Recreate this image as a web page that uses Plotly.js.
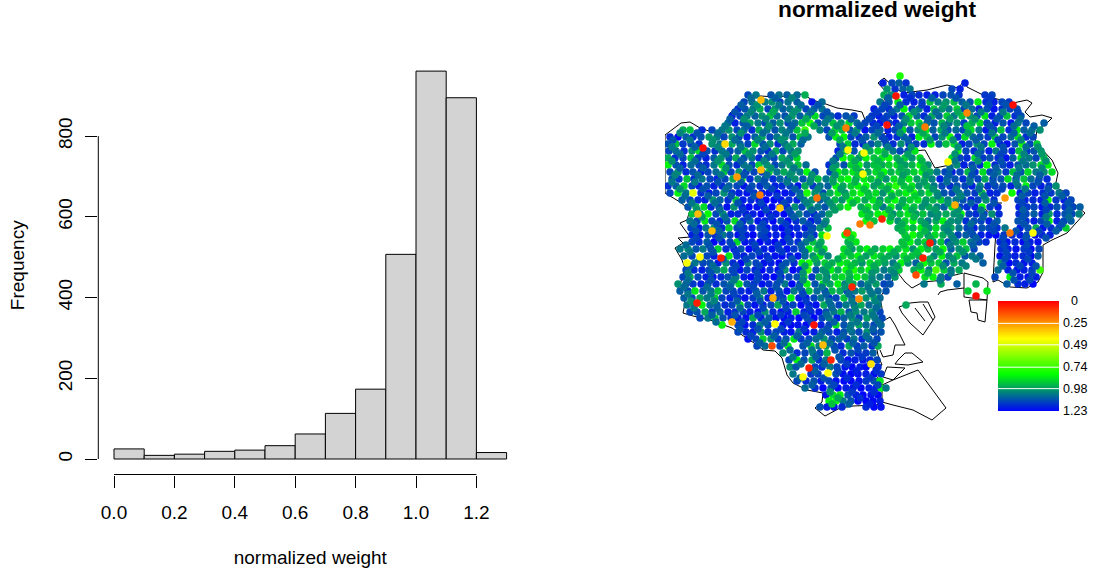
<!DOCTYPE html>
<html><head><meta charset="utf-8">
<script src="https://cdn.plot.ly/plotly-3.0.1.min.js"></script>
<style>html,body{margin:0;padding:0;background:#fff}</style></head>
<body><div id="chart" style="width:1095px;height:574px"></div>
<script>
// Histogram
const binMids=[0.05,0.15,0.25,0.35,0.45,0.55,0.65,0.75,0.85,0.95,1.05,1.15,1.25];
const binCounts=[25,9,12,19,22,33,62,113,173,507,961,895,16];
const xTicks=[0,0.2,0.4,0.6,0.8,1.0,1.2];
const xTickText=['0.0','0.2','0.4','0.6','0.8','1.0','1.2'];
const yTicks=[0,200,400,600,800];
// Legend
const legendValues=[0,0.41,0.82,1.23];
const legendTicks=[0,0.25,0.49,0.74,0.98,1.23];
// Stations: each row is [northing, easting, weight*100, easting, weight*100, ...]
const stationsNorth=[
[76,900,78],
[83,883,118,892,112,899,108,906,115,965,118],
[89,887,100,895,115,903,108,910,104,952,112,960,118],
[95,748,112,756,104,771,110,779,105,787,108,797,106,805,95,884,95,891,100,904,118,912,112,919,116,927,118,935,118,943,112,951,110,959,115,985,114,992,112],
[102,744,112,752,105,765,103,772,100,780,112,788,105,797,108,812,120,822,106,880,104,889,110,898,85,906,116,914,118,922,112,930,92,938,104,946,100,954,92,962,108,970,110,978,85,986,116,994,118,1002,112,1009,114],
[109,738,116,745,110,753,104,760,95,768,112,775,100,783,108,790,104,798,100,806,112,814,108,822,105,874,118,882,112,889,116,897,104,904,84,912,114,919,104,927,118,934,92,942,100,949,104,957,90,964,112,972,106,979,118,987,110,994,120,1002,116,1010,112,1017,110],
[116,732,118,740,112,747,104,755,108,762,100,770,92,777,106,785,110,792,98,800,108,808,104,815,88,823,112,831,108,838,116,846,110,854,114,872,114,879,118,887,112,894,118,902,110,909,88,917,106,924,116,932,96,939,108,947,90,954,104,962,92,970,100,977,112,985,86,992,118,1000,112,1007,92,1015,116,1021,110],
[123,728,106,735,118,743,110,750,96,758,104,765,112,773,108,780,100,788,112,795,106,802,92,810,78,818,110,825,104,833,92,841,100,849,88,857,106,865,112,873,116,880,120,889,112,896,118,904,104,911,92,919,88,927,106,934,110,942,94,949,106,957,100,964,114,972,96,980,88,987,112,995,118,1003,110,1011,120,1018,104,1026,112,1044,108],
[130,683,96,690,92,702,116,712,112,722,104,729,100,737,112,744,106,752,116,759,96,767,104,775,110,782,102,790,106,797,92,805,72,820,102,827,112,835,88,842,94,850,110,857,98,865,120,872,112,880,108,888,118,895,112,903,88,910,110,918,100,926,84,933,108,941,96,948,110,956,106,963,112,971,88,979,104,986,118,994,112,1001,92,1009,116,1017,84,1024,108,1032,104,1040,100],
[137,670,116,678,122,686,108,693,116,701,110,709,98,717,104,724,112,732,100,739,110,747,118,755,108,762,96,770,112,777,104,785,100,793,110,800,92,808,104,829,110,836,84,844,82,851,112,859,116,866,108,874,100,882,112,889,118,897,116,904,108,912,118,919,84,927,92,935,112,942,100,950,78,958,116,965,88,973,106,980,110,988,114,995,92,1003,112,1011,106,1018,88,1026,116,1033,112],
[144,668,110,676,92,683,114,691,112,699,116,712,100,720,104,732,96,740,108,748,112,755,88,763,110,770,100,778,116,785,104,793,96,801,108,840,112,848,90,855,116,863,118,871,110,878,102,886,110,893,116,901,100,909,118,916,112,924,116,931,84,939,108,946,92,954,88,962,118,969,112,977,100,984,112,992,84,1000,118,1007,120,1015,110,1022,78,1030,112,1037,90],
[151,669,112,676,106,684,116,692,100,699,88,707,110,715,116,722,104,730,112,738,108,745,92,753,100,761,110,768,116,776,96,783,112,791,104,798,100,838,118,846,92,854,110,870,96,878,88,885,90,893,104,900,112,908,112,915,86,958,78,966,112,974,116,981,110,989,118,996,104,1004,112,1012,118,1019,92,1027,116,1034,110,1041,100],
[158,668,96,675,116,683,112,691,92,698,114,706,118,714,108,721,100,729,112,736,96,744,110,752,104,759,116,767,108,774,112,782,96,790,104,797,88,836,110,843,80,851,88,859,100,866,84,874,92,882,86,889,80,897,96,905,90,912,100,920,88,952,88,960,112,967,116,975,88,983,114,990,110,998,116,1006,120,1013,108,1021,86,1029,104,1036,112,1044,92],
[165,668,84,676,110,683,118,691,106,699,112,706,116,714,104,722,88,729,110,737,116,744,104,752,112,759,90,767,100,775,112,782,104,790,98,798,92,806,106,829,116,836,100,844,110,851,90,859,84,867,100,874,92,882,96,889,90,897,88,905,98,912,94,920,84,928,100,957,100,964,118,972,112,980,116,987,82,995,116,1003,112,1010,118,1018,110,1026,106,1033,100,1041,88,1048,84]
];
const stationsMiddle=[
[172,670,112,678,100,686,116,693,110,701,118,708,112,716,106,724,90,731,112,739,100,746,114,754,112,762,116,769,90,777,104,784,96,792,100,800,104,807,82,815,110,830,112,838,84,845,92,853,86,861,100,868,96,876,88,884,82,891,94,899,90,907,96,914,90,922,84,930,96,937,104,945,112,952,118,960,112,968,94,975,116,983,88,990,112,998,104,1006,114,1013,92,1021,110,1028,88,1036,104,1044,100,1052,88],
[179,672,110,679,114,687,92,694,116,702,104,710,112,717,118,725,112,733,96,742,78,750,116,758,104,765,110,773,116,780,108,788,112,795,100,803,110,811,104,818,92,826,104,833,96,841,88,848,82,856,98,864,86,871,92,879,84,886,100,894,88,902,94,909,86,917,98,925,90,932,102,940,118,947,108,955,110,963,116,970,104,978,112,985,96,993,116,1001,110,1008,88,1016,112,1024,92,1031,106,1039,112,1047,116],
[186,668,116,676,108,684,88,692,112,699,118,707,110,714,118,722,116,729,108,737,112,744,120,752,110,760,116,767,108,775,118,782,116,790,112,798,120,805,96,813,114,820,104,828,108,836,84,843,96,851,90,858,84,866,82,874,98,881,92,889,88,896,76,904,92,912,86,919,100,927,94,934,104,942,112,950,116,957,110,965,112,972,118,980,102,988,116,995,112,1003,110,1011,118,1018,106,1026,84,1033,112,1041,118,1049,114,1056,100],
[193,670,112,678,84,686,104,701,116,709,118,716,112,724,100,732,114,739,118,747,120,754,114,762,118,769,120,777,122,785,120,792,116,800,108,807,78,815,100,823,112,830,96,838,86,845,100,853,88,861,80,868,94,876,88,883,100,891,84,899,92,906,84,914,78,921,96,929,88,937,100,944,110,952,112,959,104,967,110,975,114,982,92,990,118,997,116,1012,80,1020,118,1028,112,1035,118,1043,116,1051,114,1059,104,1066,112],
[200,682,108,690,112,698,116,705,118,713,100,720,108,728,116,736,92,743,118,751,116,759,120,766,122,774,122,781,120,789,116,797,118,804,104,812,100,820,108,827,104,835,94,842,100,850,82,857,88,865,96,873,86,880,100,888,92,895,82,903,96,910,90,918,86,926,98,933,94,941,90,948,104,956,104,963,110,971,118,978,112,986,100,994,116,1018,112,1025,118,1033,116,1041,118,1048,80,1056,114,1064,118,1071,112],
[207,688,110,696,96,704,88,711,116,719,112,727,120,734,100,742,118,749,122,757,120,764,118,772,122,780,122,787,118,795,100,802,112,810,96,818,104,825,110,833,100,840,92,848,80,861,96,868,86,876,92,883,104,891,84,899,100,906,88,914,92,922,100,929,96,937,102,944,108,952,88,960,112,967,116,975,118,982,82,990,114,998,118,1019,118,1027,114,1034,112,1042,120,1050,116,1057,110,1065,116,1073,112,1080,108],
[214,692,92,700,104,708,82,716,112,723,100,731,118,738,116,746,120,753,118,761,122,769,120,776,118,784,122,791,112,799,104,807,112,814,118,822,108,829,98,862,86,870,94,878,84,885,78,893,100,900,92,908,86,916,98,923,92,931,102,938,100,946,96,954,100,961,84,969,112,976,116,984,112,992,100,999,116,1019,116,1026,112,1034,108,1042,118,1049,98,1057,116,1065,110,1072,112,1079,102],
[221,690,104,697,112,705,86,712,112,720,118,727,110,735,88,743,116,750,106,758,120,765,118,773,122,781,110,788,122,796,116,803,108,811,120,818,112,826,100,866,80,874,92,890,88,898,100,905,90,913,82,921,96,928,104,936,96,943,84,951,100,958,102,966,116,974,110,981,112,989,118,997,108,1018,110,1026,116,1034,118,1041,112,1049,84,1057,118,1064,112,1071,108],
[228,691,112,699,118,706,104,714,100,722,116,729,90,737,112,744,116,752,118,760,110,767,120,775,118,782,122,790,120,797,116,805,118,813,112,820,100,828,92,898,96,906,88,913,94,921,84,929,100,936,88,944,100,951,96,959,104,967,112,974,118,982,110,989,112,997,116,1005,104,1020,118,1028,110,1036,96,1043,120,1051,116,1059,112,1066,90],
[235,692,118,700,120,708,110,715,116,723,104,730,112,738,120,746,118,753,122,761,112,768,120,776,118,784,122,791,122,799,118,806,112,814,116,822,86,845,84,853,78,905,90,913,80,920,92,928,100,935,88,943,96,951,100,958,112,966,108,973,112,981,118,989,120,996,122,1004,114,1012,116,1020,118,1027,112,1035,120,1042,116,1050,118],
[242,692,112,699,116,707,108,714,122,722,118,730,112,737,88,745,120,752,116,760,122,768,118,775,122,783,120,790,112,798,116,806,104,813,92,821,96,848,94,856,86,902,92,910,84,918,96,925,88,933,104,941,92,948,112,956,100,963,90,971,104,979,112,986,116,1000,118,1007,120,1015,116,1023,122,1030,118,1038,120],
[249,680,104,688,100,696,110,703,104,711,112,718,90,726,116,734,120,741,110,749,122,756,116,764,118,772,120,779,112,787,120,794,114,802,110,809,84,817,92,824,88,844,88,852,100,860,92,867,84,875,96,883,90,890,84,898,92,906,86,913,100,921,84,928,92,936,98,943,80,951,108,959,100,966,92,974,112,1001,116,1008,118,1016,120,1024,114,1031,122,1039,112],
[256,684,106,692,112,707,112,714,118,729,86,737,114,744,118,752,112,760,120,767,116,775,120,782,122,790,118,798,120,805,106,813,100,820,84,828,102,843,88,851,92,858,84,866,98,874,86,881,92,889,96,896,100,904,88,912,92,919,96,934,102,942,84,949,102,957,92,965,110,972,104,980,108,1000,120,1008,114,1015,118,1023,116,1031,122,1038,108],
[263,695,104,703,112,710,110,718,118,726,100,733,116,741,122,748,104,756,112,764,120,771,118,779,122,786,110,794,116,802,84,809,78,817,100,825,90,832,96,840,84,847,88,855,94,862,100,870,88,878,92,885,98,893,104,901,84,908,100,916,108,924,80,931,92,939,90,946,110,954,96,962,104,983,108,1001,100,1009,122,1016,116,1024,120,1032,118],
[270,686,112,694,116,702,118,709,112,717,104,724,96,732,112,740,120,747,112,755,118,762,122,770,116,778,120,785,100,793,122,800,118,808,72,816,110,823,100,831,84,838,96,846,82,854,78,861,92,869,84,876,98,884,104,891,100,899,90,914,96,921,84,929,104,936,70,944,90,951,104,959,96,998,106,1008,118,1017,120,1024,118,1032,116,1040,72]
];
const stationsSouth=[
[277,683,112,690,96,698,112,706,118,713,120,721,116,728,110,736,104,744,118,751,122,759,116,766,120,774,122,781,118,789,112,797,110,804,90,812,114,819,96,827,104,835,92,842,88,850,96,857,84,865,92,872,100,880,104,888,108,895,98,925,88,933,84,941,104,948,112,995,112,1010,84,1020,118,1028,120,1036,118],
[284,678,100,686,108,693,114,701,118,708,112,716,116,724,110,731,104,739,88,747,110,754,116,762,120,769,116,777,112,785,104,792,122,800,112,807,84,815,110,823,86,830,98,838,84,845,104,853,96,861,108,868,100,876,98,884,112,890,110,924,104,941,96,957,108,976,94,1007,108,1018,116,1025,118,1033,122],
[291,680,108,688,112,695,86,703,110,711,106,718,92,726,112,733,112,741,116,749,118,756,110,764,104,771,118,779,110,787,120,794,104,802,110,809,92,817,106,825,112,832,94,840,96,847,112,855,104,862,98,870,104,878,106,886,110,968,90,987,86],
[298,684,108,692,112,700,96,707,104,715,90,722,112,730,118,738,116,745,120,753,114,760,100,768,118,776,112,783,116,791,84,799,118,806,120,814,112,821,104,829,116,836,112,844,92,852,110,866,100,874,92,880,106],
[305,687,104,694,96,702,84,710,106,717,110,725,116,732,112,740,88,748,112,755,120,763,118,771,112,778,96,786,118,793,112,801,122,809,118,816,120,824,96,831,108,839,112,846,104,854,108,861,96,869,106,878,104,906,96],
[312,690,112,697,110,705,96,712,114,720,106,728,118,735,116,743,112,750,118,758,122,765,100,773,116,781,120,788,118,796,90,804,118,811,116,819,120,826,110,834,104,841,94,849,110,856,100,864,104,872,100,880,112],
[318,700,112,708,104,715,92,723,110,731,116,738,118,746,120,753,96,761,118,769,108,776,120,784,122,791,118,799,122,807,110,814,122,822,112,829,104,837,118,844,108,852,100,859,112,867,98,875,104,882,112],
[325,722,84,738,112,745,120,753,116,760,104,768,112,783,120,791,122,798,120,806,122,821,118,829,112,836,88,844,110,851,104,859,96,866,106,874,112,881,106],
[332,738,112,746,116,753,118,761,100,768,116,776,112,784,118,791,120,799,104,806,122,814,118,822,108,829,112,837,118,844,110,852,106,859,112,867,100,874,112,881,110],
[339,748,120,756,112,763,90,771,100,778,114,786,110,794,86,801,114,809,112,816,106,824,100,832,112,839,108,847,114,854,104,862,116,869,108,877,112],
[346,757,112,765,106,780,112,788,84,803,110,811,88,819,104,826,98,834,112,841,116,849,96,857,114,864,108,872,116,878,96],
[353,783,100,797,116,805,112,813,104,820,112,827,94,843,116,851,110,858,118,866,114,873,108],
[360,789,112,797,84,804,110,812,96,819,116,826,104,841,112,848,120,855,118,863,120,870,116,877,112],
[367,790,100,796,110,815,112,822,116,830,104,837,112,845,120,852,122,860,118,866,122,878,116],
[374,793,104,811,114,818,112,836,110,843,120,851,122,858,120,866,118,874,122,881,114],
[381,797,112,806,116,814,110,821,118,829,112,836,120,844,122,851,122,859,120,866,114,874,110,880,86],
[388,805,106,815,116,823,122,831,110,838,122,846,118,853,120,861,122,869,118,876,120,881,84,886,104],
[395,826,120,833,88,840,84,848,110,856,118,863,122,871,120,878,122],
[401,829,84,836,80,843,104,851,110,858,122,866,122,873,122,880,118],
[407,820,110,827,118,834,120,842,116,866,116,874,122,881,120]
];
const stationsInfill=[
[98,751,106,775,108,792,102,888,108,910,116,932,108,956,110,990,114],
[105,741,108,757,100,779,104,801,106,818,110,885,112,900,108,922,114,944,98,966,104,989,112,1006,110],
[112,735,110,751,102,773,96,794,100,811,106,827,110,877,114,892,110,914,100,936,106,958,96,981,104,1003,104,1018,112],
[119,730,108,744,100,766,102,788,104,806,96,828,104,851,108,869,112,884,114,906,100,928,108,950,98,975,100,997,110,1020,106],
[126,725,104,747,108,769,100,792,108,814,96,837,100,860,110,877,112,899,108,921,96,944,102,967,92,990,110,1014,106,1034,108],
[133,680,102,697,110,718,106,741,100,763,106,786,104,805,96,832,98,855,104,878,106,900,100,923,96,945,104,968,98,992,104,1014,108,1030,106],
[140,673,110,690,104,713,100,735,106,758,102,781,100,803,106,840,96,862,110,885,112,908,108,930,98,953,100,976,108,998,112,1021,102],
[147,672,104,695,108,718,102,741,104,765,106,788,100,843,104,866,100,888,104,911,100,958,100,981,104,1003,110,1026,106,1038,100],
[154,680,106,703,112,726,104,749,100,772,104,795,98,840,104,862,94,885,96,908,98,955,100,978,106,1001,112,1024,102,1042,98],
[161,672,100,695,106,718,100,741,108,764,102,787,100,833,104,855,96,878,94,900,98,922,94,955,104,978,100,1001,110,1023,104,1046,100],
[168,680,108,703,108,726,100,749,104,771,100,794,104,833,98,856,94,878,92,901,96,924,94,950,106,973,108,996,108,1019,104,1042,102],
[175,675,102,698,106,721,104,744,110,767,106,790,100,812,100,835,100,858,92,881,94,903,98,926,100,949,108,972,110,994,108,1017,106,1040,108],
[182,672,104,695,104,718,110,741,108,764,110,787,104,810,102,833,98,855,94,878,98,901,94,924,98,947,106,970,106,993,110,1016,104,1038,110],
[189,680,100,703,110,726,106,749,112,772,112,795,108,818,102,841,98,864,92,887,96,910,92,933,100,956,104,979,106,1002,112,1025,104,1048,110],
[196,685,106,708,108,731,110,754,110,777,114,800,106,823,102,846,96,869,92,892,96,915,90,938,102,961,102,984,104,1022,108,1045,110,1062,108],
[203,692,104,715,106,738,110,761,112,784,112,807,102,830,100,853,94,879,94,902,96,925,100,948,100,971,108,994,110,1022,112,1045,108,1068,110],
[210,697,100,720,106,743,114,766,112,789,110,812,106,835,98,866,94,889,96,912,96,935,98,958,100,981,104,1023,108,1046,112,1069,108],
[217,702,98,725,106,748,112,771,114,794,108,817,110,868,92,891,96,914,94,937,100,960,100,983,108,1023,110,1046,104,1069,106],
[224,694,106,717,110,740,108,763,112,786,114,809,112,824,104,902,96,925,98,948,100,971,106,994,110,1024,110,1047,108,1062,110],
[231,696,110,719,108,742,112,765,112,788,114,811,110,848,92,902,94,925,94,948,102,971,110,994,112,1016,110,1039,112,1056,108],
[238,696,112,719,110,742,112,765,114,788,112,811,106,851,90,907,92,930,96,953,102,976,108,1003,112,1026,110,1046,110],
[245,686,106,709,110,732,112,755,112,778,114,801,108,819,98,850,96,904,92,927,96,950,104,973,108,1004,112,1027,112],
[252,690,104,713,110,736,114,759,112,782,114,805,106,822,100,848,94,871,94,894,96,917,92,940,96,963,100,1006,112,1029,114],
[259,700,108,723,108,746,112,769,114,792,110,815,96,838,96,861,96,884,96,907,94,930,96,953,100,976,104,1005,112,1028,112],
[266,690,108,713,106,736,112,759,112,782,110,805,98,828,96,851,92,874,96,897,98,920,96,943,100,966,102,1003,108,1020,112,1036,110],
[273,688,104,711,110,734,112,757,112,780,112,803,100,826,100,849,94,872,100,894,102,928,96,951,104,1013,110,1032,112],
[280,688,106,711,110,734,104,757,112,780,110,803,102,826,100,849,96,872,102,940,104,1014,110,1030,112],
[287,684,106,707,106,730,108,753,112,776,110,799,108,822,104,845,100,868,104],
[294,688,104,711,104,734,112,757,108,780,112,803,112,826,108,849,106,872,104],
[301,691,100,714,102,737,108,760,110,783,110,806,114,829,106,852,104,875,102],
[308,694,104,717,108,740,106,763,112,786,112,809,114,832,106,855,102,876,106],
[315,712,108,735,110,758,112,781,114,804,112,827,106,850,104,873,104],
[322,716,106,742,112,765,108,788,114,811,112,834,108,857,104,878,106],
[329,740,110,758,110,781,112,804,114,827,110,850,104,873,108],
[336,751,112,774,108,797,108,820,106,843,108,866,106],
[343,760,108,784,106,807,108,830,106,853,108,874,110],
[350,790,106,812,104,835,110,858,112],
[357,793,104,816,108,839,110,862,114],
[364,801,106,824,108,847,114,870,116],
[371,815,108,838,112,856,118,876,116],
[378,800,108,824,110,847,116,870,114],
[385,812,108,834,112,856,116,878,112],
[392,830,100,852,114,874,116],
[398,838,96,860,116],
[404,832,92,849,108,870,118]
];
// Stations with unusually low weight: easting, northing, weight
const outlierEast=[761,703,725,693,698,712,761,737,760,780,817,846,864,848,863,827,860,870,847,896,967,1013,887,925,948,1005,882,1010,1033,955,930,700,721,687,773,697,732,775,814,772,859,852,831,809,803,871,828,823,923,916,976];
const outlierNorth=[100,148,144,193,214,231,170,177,195,208,198,128,153,150,174,236,224,225,233,96,113,105,125,127,162,198,219,233,233,205,243,257,258,263,298,303,322,324,325,346,299,287,360,368,377,364,373,345,258,275,296];
const outlierWeight=[0.3,0.02,0.35,0.45,0.3,0.3,0.3,0.25,0.2,0.32,0.18,0.2,0.42,0.4,0.42,0.42,0.2,0.2,0.12,0.03,0.22,0.02,0.03,0.2,0.41,0.25,0.06,0.2,0.41,0.28,0.04,0.41,0.05,0.42,0.28,0.05,0.28,0.41,0.03,0.12,0.22,0.06,0.06,0.05,0.41,0.36,0.41,0.3,0.05,0.12,0.02];
// Ward outlines: [easting, northing] lists
const coast=[[665,135],[681,123],[690,122],[695,125],[700,128],[712,132],[725,138],[730,113],[742,103],[760,96],[777,97],[803,94],[812,100],[823,103],[837,108],[852,110],[862,112],[865,120],[873,113],[880,110],[887,93],[878,83],[884,78],[895,88],[903,93],[927,90],[947,85],[958,88],[965,80],[967,87],[983,95],[993,98],[1013,103],[1027,100],[1032,103],[1025,112],[1030,117],[1042,115],[1052,118],[1047,123],[1037,130],[1035,142],[1052,160],[1058,173],[1055,187],[1067,193],[1073,203],[1085,213],[1073,227],[1067,233],[1052,240],[1043,245],[1043,272],[1038,282],[1027,288],[1010,287],[998,280],[993,282],[995,245],[997,220],[983,207]];
const coastWest=[[665,135],[665,193],[680,202],[690,210],[687,220],[680,223],[685,230],[690,237],[678,238],[683,243],[675,248],[682,260],[685,268],[680,285],[678,288],[685,303],[683,313],[693,316],[710,320],[732,328],[742,335],[757,345],[763,350],[775,351],[782,358],[787,375],[793,383],[807,390],[823,393],[822,402],[815,408],[825,416],[840,408],[853,406],[877,405],[882,402],[882,385],[877,377],[873,368],[882,365],[878,355],[877,350],[880,323],[882,308],[880,297],[898,273],[905,282],[912,288],[923,282],[945,280],[947,277],[963,273]];
const wardInner=[[955,150],[963,162],[982,185],[998,203],[1002,203]];
const wardInner2=[[935,168],[950,165],[957,165],[963,162]];
const wardInner3=[[900,152],[925,150],[935,168]];
const wardInner4=[[870,138],[887,133],[888,138],[880,142]];
const pier1=[[964,273],[983,278],[988,282],[987,300],[964,297],[964,273]];
const pier2=[[969,300],[987,300],[985,322],[978,320],[977,313],[971,312],[969,300]];
const pier3=[[938,295],[940,292],[947,290],[964,288]];
const pier4=[[899,307],[910,303],[920,302],[928,302],[935,317],[933,320],[923,335],[910,323],[902,313],[899,307]];
const pier5=[[915,308],[925,321]];
const pier6=[[923,304],[933,320]];
const pier7=[[880,323],[890,317],[895,325],[905,345],[895,345],[893,355],[883,357],[880,350]];
const pier8=[[905,353],[912,353],[923,362],[908,365],[895,364],[898,360],[905,353]];
const pier9=[[887,367],[905,368],[900,373],[893,380],[883,377],[887,367]];
const pier10=[[882,385],[893,380],[918,370],[946,408],[932,420],[913,410],[893,405],[882,402]];
const outlineSets=[coast,coastWest,wardInner,wardInner2,wardInner3,wardInner4,pier1,pier2,pier3,pier4,pier5,pier6,pier7,pier8,pier9,pier10];

const W=1095,H=574;
const domX=(a,b)=>[a/W,b/W];
const domY=(top,bot)=>[1-bot/H,1-top/H];
const scale=[[0,'#ff0000'],[1/3,'#ffff00'],[2/3,'#00ff00'],[1,'#0000ff']];
const fam='"Liberation Sans",Arial,sans-serif';

const sx=[],sy=[],sw=[];
[stationsNorth,stationsMiddle,stationsSouth,stationsInfill].forEach(band=>band.forEach(r=>{
  for(let i=1;i+1<r.length;i+=2){sx.push(r[i]);sy.push(r[0]);sw.push(r[i+1]/100);}
}));
const ox=[],oy=[];
outlineSets.forEach(s=>{s.forEach(p=>{ox.push(p[0]);oy.push(p[1]);});ox.push(null);oy.push(null);});

const traces=[
 {type:'bar',x:binMids,y:binCounts,width:0.1,xaxis:'x',yaxis:'y',marker:{color:'#d3d3d3',line:{color:'#000',width:1}},hoverinfo:'x+y'},
 {type:'scatter',mode:'lines',x:ox,y:oy,xaxis:'x2',yaxis:'y2',line:{color:'#000',width:1},connectgaps:false,hoverinfo:'skip'},
 {type:'scatter',mode:'markers',x:sx,y:sy,xaxis:'x2',yaxis:'y2',marker:{size:7.5,color:sw,cmin:0,cmax:1.23,colorscale:scale,showscale:false,line:{width:0}}},
 {type:'scatter',mode:'markers',x:outlierEast,y:outlierNorth,xaxis:'x2',yaxis:'y2',marker:{size:7.5,color:outlierWeight,cmin:0,cmax:1.23,colorscale:scale,showscale:false,line:{width:0}}},
 {type:'heatmap',x:[0,1],y:legendValues,z:legendValues.map(v=>[v,v]),xaxis:'x3',yaxis:'y3',zmin:0,zmax:1.23,colorscale:scale,showscale:false,zsmooth:'best',hoverinfo:'skip'}
];
const axisLine={color:'#000',width:1};
const layout={
 width:W,height:H,margin:{l:0,r:0,t:0,b:0},paper_bgcolor:'#fff',plot_bgcolor:'rgba(0,0,0,0)',showlegend:false,
 font:{family:fam,color:'#000',size:19},
 title:{text:'normalized weight',x:877/W,xref:'paper',xanchor:'center',y:1-1/H,yref:'paper',yanchor:'top',font:{family:fam,size:22.7,weight:700,color:'#000'}},
 xaxis:{domain:domX(98.3,522.3),range:[-0.052,1.352],showgrid:false,zeroline:false,showline:false,ticks:'outside',ticklen:12,tickwidth:1,tickcolor:'#000',tickvals:xTicks,ticktext:xTickText,tickfont:{size:19},ticklabelstandoff:9,title:{text:'normalized weight',font:{size:19},standoff:28},anchor:'y'},
 yaxis:{domain:domY(56,474.5),range:[-38.4,998.4],showgrid:false,zeroline:false,showline:false,ticks:'outside',ticklen:12,tickwidth:1,tickcolor:'#000',tickvals:yTicks,tickfont:{size:19},tickangle:-90,ticklabelstandoff:6,title:{text:'Frequency',font:{size:19},standoff:25},anchor:'x'},
 xaxis2:{domain:domX(665,1093),range:[665,1093],visible:false,anchor:'y2'},
 yaxis2:{domain:domY(70,430),range:[430,70],visible:false,anchor:'x2'},
 xaxis3:{domain:domX(998,1059),range:[0,1],visible:false,anchor:'y3'},
 yaxis3:{domain:domY(301,411),range:[1.23,0],visible:false,anchor:'x3'},
 shapes:[
  {type:'line',xref:'x',yref:'y domain',x0:0,x1:1.2,y0:0,y1:0,line:axisLine},
  {type:'line',xref:'x domain',yref:'y',x0:0,x1:0,y0:0,y1:800,line:axisLine}
 ].concat(legendTicks.slice(1,5).map(v=>({type:'line',xref:'x3',yref:'y3',x0:0,x1:1,y0:v,y1:v,line:{color:'#fff',width:1}}))),
 annotations:legendTicks.map(v=>({xref:'paper',yref:'y3',x:1074.5/W,y:v,text:String(v),showarrow:false,xanchor:'center',yanchor:'middle',font:{family:fam,size:12.5,color:'#000'}}))
};
Plotly.newPlot('chart',traces,layout,{displayModeBar:false,staticPlot:true});
</script></body></html>
